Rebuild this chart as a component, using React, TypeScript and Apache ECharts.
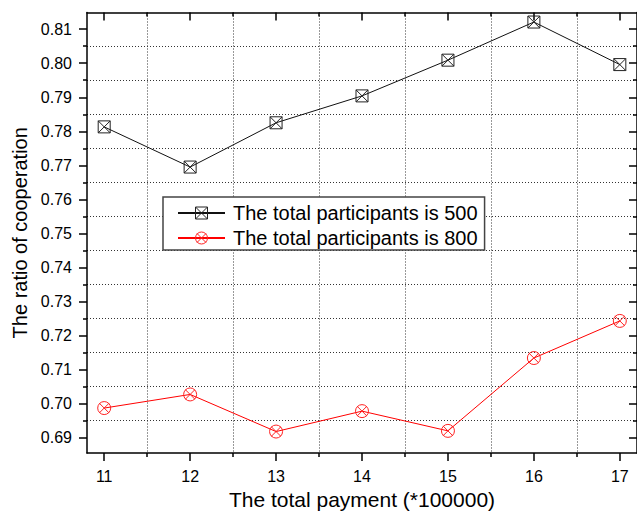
import React, { useEffect, useRef } from "react";
import * as echarts from "echarts";

// Total payment (*100000) on the x axis
const payments = [11, 12, 13, 14, 15, 16, 17];
// Ratio of cooperation for each population size
const ratio500 = [0.7813, 0.7695, 0.7825, 0.7904, 0.8009, 0.8121, 0.7996];
const ratio800 = [0.6987, 0.7027, 0.6918, 0.6978, 0.692, 0.7134, 0.7243];

const seriesNames = ["The total participants is 500", "The total participants is 800"];

// Axis ranges and tick positions
const X_MIN = 10.8;
const X_MAX = 17.2;
const X_TICKS = [11, 12, 13, 14, 15, 16, 17];
const X_MINOR = [11.5, 12.5, 13.5, 14.5, 15.5, 16.5];
const Y_MIN = 0.6855;
const Y_MAX = 0.8149;
const Y_TICKS = [0.69, 0.7, 0.71, 0.72, 0.73, 0.74, 0.75, 0.76, 0.77, 0.78, 0.79, 0.8, 0.81];
const Y_MINOR = [0.695, 0.705, 0.715, 0.725, 0.735, 0.745, 0.755, 0.765, 0.775, 0.785, 0.795, 0.805];

const FONT = "'Liberation Sans', Arial, sans-serif";

const SQUARE_X = "path://M0,0H10V10H0Z M0,0L10,10 M10,0L0,10";
const CIRCLE_X =
  "path://M5,0A5,5 0 1 1 5,10A5,5 0 1 1 5,0Z M1.2,1.2L8.8,8.8 M8.8,1.2L1.2,8.8";

const black = "#000";
const gridLine = { show: true, lineStyle: { color: "#333", width: 1, type: [1, 2] } };

function xAxis(position: "top" | "bottom", major: boolean) {
  const inside = position === "top";
  return {
    type: "value" as const,
    position,
    min: X_MIN,
    max: X_MAX,
    axisLine: { show: major, onZero: false, lineStyle: { color: black, width: 1.5 } },
    axisTick: {
      show: true,
      inside,
      length: major ? 8 : 4,
      lineStyle: { color: black, width: 1.5 },
      customValues: major ? X_TICKS : X_MINOR,
    },
    axisLabel:
      major && position === "bottom"
        ? {
            show: true,
            customValues: X_TICKS,
            fontSize: 16,
            fontFamily: FONT,
            color: black,
            margin: 15,
            formatter: (v: number) => String(v),
          }
        : { show: false },
    splitLine: !major && position === "bottom" ? gridLine : { show: false },
  };
}

function yAxis(position: "left" | "right", major: boolean) {
  const inside = position === "right";
  return {
    type: "value" as const,
    position,
    min: Y_MIN,
    max: Y_MAX,
    axisLine: { show: major, onZero: false, lineStyle: { color: black, width: 1.5 } },
    axisTick: {
      show: true,
      inside,
      length: major ? 8 : 4,
      lineStyle: { color: black, width: 1.5 },
      customValues: major ? Y_TICKS : Y_MINOR,
    },
    axisLabel:
      major && position === "left"
        ? {
            show: true,
            customValues: Y_TICKS,
            fontSize: 16,
            fontFamily: FONT,
            color: black,
            margin: 15,
            formatter: (v: number) => v.toFixed(2),
          }
        : { show: false },
    splitLine: !major && position === "left" ? gridLine : { show: false },
  };
}

export default function App() {
  const ref = useRef<HTMLDivElement>(null);

  useEffect(() => {
    if (!ref.current) return;
    const chart = echarts.init(ref.current, null, { renderer: "svg" });

    const xMain = {
      ...xAxis("bottom", true),
      name: "The total payment (*100000)",
      nameLocation: "middle" as const,
      nameGap: 36,
      nameTextStyle: { fontSize: 21, fontFamily: FONT, color: black },
    };
    const yMain = {
      ...yAxis("left", true),
      name: "The ratio of cooperation",
      nameLocation: "middle" as const,
      nameGap: 57,
      nameTextStyle: { fontSize: 20, fontFamily: FONT, color: black },
    };

    chart.setOption({
      animation: false,
      backgroundColor: "#fff",
      textStyle: { fontFamily: FONT },
      grid: { left: 87, top: 12.5, width: 551.5, height: 442, containLabel: false },
      xAxis: [xMain, xAxis("bottom", false), xAxis("top", true), xAxis("top", false)],
      yAxis: [yMain, yAxis("left", false), yAxis("right", true), yAxis("right", false)],
      legend: {
        data: seriesNames,
        orient: "vertical",
        left: 163,
        top: 197,
        padding: [6, 7, 2, 14],
        itemGap: 5,
        itemWidth: 47,
        itemHeight: 15,
        backgroundColor: "#fff",
        borderColor: "#444",
        borderWidth: 1.5,
        borderRadius: 0,
        itemStyle: { borderWidth: 1 },
        textStyle: {
          fontSize: 20,
          fontFamily: FONT,
          color: black,
          lineHeight: 20,
          padding: [0, 0, 0, 3],
        },
      },
      series: [
        {
          name: seriesNames[0],
          type: "line",
          xAxisIndex: 0,
          yAxisIndex: 0,
          data: payments.map((p, i) => [p, ratio500[i]]),
          symbol: SQUARE_X,
          symbolSize: 12,
          showAllSymbol: true,
          lineStyle: { color: "#111", width: 1 },
          itemStyle: { color: "rgba(255,255,255,0)", borderColor: "#222", borderWidth: 1 },
          z: 3,
        },
        {
          name: seriesNames[1],
          type: "line",
          xAxisIndex: 0,
          yAxisIndex: 0,
          data: payments.map((p, i) => [p, ratio800[i]]),
          symbol: CIRCLE_X,
          symbolSize: 13,
          showAllSymbol: true,
          lineStyle: { color: "#f00", width: 1 },
          itemStyle: { color: "rgba(255,255,255,0)", borderColor: "#f22", borderWidth: 1 },
          z: 3,
        },
      ],
    });

    return () => chart.dispose();
  }, []);

  return (
    <div
      ref={ref}
      style={{ position: "fixed", left: 0, top: 0, width: 637, height: 515 }}
    />
  );
}
